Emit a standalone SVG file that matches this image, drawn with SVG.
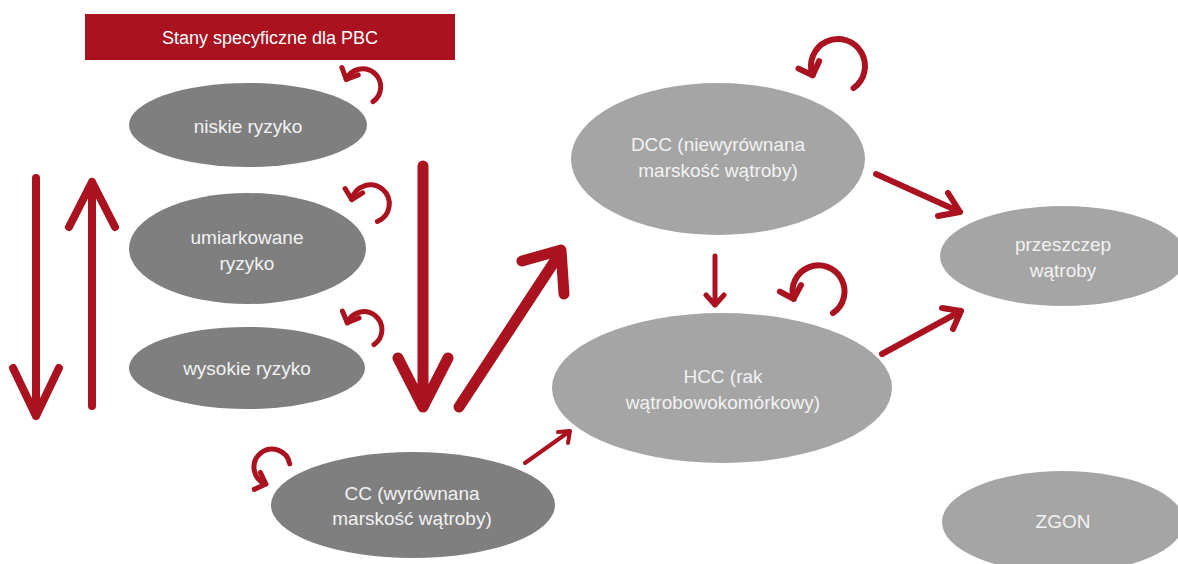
<svg xmlns="http://www.w3.org/2000/svg" width="1178" height="564" viewBox="0 0 1178 564">
<style>
.t{font-family:"Liberation Sans",Arial,sans-serif;font-size:19px;fill:#f2f2f2;text-anchor:middle}
.h{font-size:18px;fill:#ffffff}
.dark{fill:#7f7f7f}
.light{fill:#a5a5a5}
.c{fill:none;stroke:#ab1220;stroke-linecap:round;stroke-linejoin:round}
</style>
<defs>
<marker id="chev" markerUnits="userSpaceOnUse" markerWidth="30" markerHeight="30" refX="0" refY="0" viewBox="-15 -15 30 30" orient="auto" overflow="visible">
<path d="M-9 -9 L0 0 L-9 9" fill="none" stroke="#ab1220" stroke-width="5" stroke-linecap="round" stroke-linejoin="round"/>
</marker>
<marker id="chevL" markerUnits="userSpaceOnUse" markerWidth="40" markerHeight="40" refX="0" refY="0" viewBox="-20 -20 40 40" orient="auto" overflow="visible">
<path d="M-11 -11 L0 0 L-11 11" fill="none" stroke="#ab1220" stroke-width="6" stroke-linecap="round" stroke-linejoin="round"/>
</marker>
</defs>
<rect x="0" y="0" width="1178" height="564" fill="#ffffff"/>

<g id="header">
<rect x="85" y="14" width="370" height="46" fill="#ab1220"/>
<text class="t h" x="270" y="44">Stany specyficzne dla PBC</text>
</g>

<g id="niskie">
<ellipse class="dark" cx="248" cy="125" rx="119" ry="42"/>
<text class="t" x="248" y="133">niskie ryzyko</text>
</g>
<g id="umiarkowane">
<ellipse class="dark" cx="247.5" cy="248.5" rx="118.5" ry="55.5"/>
<text class="t" x="247" y="244">umiarkowane</text>
<text class="t" x="247" y="270">ryzyko</text>
</g>
<g id="wysokie">
<ellipse class="dark" cx="247" cy="368" rx="118" ry="41"/>
<text class="t" x="247" y="375">wysokie ryzyko</text>
</g>
<g id="cc">
<ellipse class="dark" cx="413" cy="505" rx="142" ry="53"/>
<text class="t" x="412" y="500">CC (wyrównana</text>
<text class="t" x="412" y="525">marskość wątroby)</text>
</g>
<g id="dcc">
<ellipse class="light" cx="718" cy="159" rx="147" ry="76"/>
<text class="t" x="718" y="151">DCC (niewyrównana</text>
<text class="t" x="718" y="177">marskość wątroby)</text>
</g>
<g id="hcc">
<ellipse class="light" cx="722" cy="388" rx="170" ry="75"/>
<text class="t" x="723" y="383">HCC (rak</text>
<text class="t" x="723" y="409">wątrobowokomórkowy)</text>
</g>
<g id="przeszczep">
<ellipse class="light" cx="1063" cy="256" rx="123" ry="50"/>
<text class="t" x="1063" y="251">przeszczep</text>
<text class="t" x="1063" y="277">wątroby</text>
</g>
<g id="zgon">
<ellipse class="light" cx="1063" cy="522" rx="121" ry="51"/>
<text class="t" x="1063" y="528">ZGON</text>
</g>

<g id="connectors">
<path class="c" stroke-width="8" d="M36 178 L36 416 M13 368 L36 416 L59 368"/>
<path class="c" stroke-width="8" d="M92 406 L92 182 M69 227 L92 182 L115 227"/>
<path class="c" stroke-width="11" d="M423 166 L423 407 M398 358 L423 407 L448 358"/>
<path class="c" stroke-width="11" d="M459 407 L560 253 M522 261 L561 250 L564 294"/>
<path class="c" stroke-width="4" d="M525 463 L570 431 M558 432 L570 431 L568 443"/>
<path class="c" stroke-width="5" d="M715 256 L715 305 M706 295 L715 305 L724 295"/>
<path class="c" stroke-width="6" d="M876 174 L960 212 M948 193 L960 212 L938 216"/>
<path class="c" stroke-width="6" d="M882 354 L961 311 M942 308 L961 311 L953 329"/>
<path class="c" stroke-width="5" marker-end="url(#chev)" d="M373 101.6 A18 18 0 1 0 346.3 79.4"/>
<path class="c" stroke-width="5" marker-end="url(#chev)" d="M377.4 221.5 A19 19 0 1 0 351.8 199.5"/>
<path class="c" stroke-width="5" marker-end="url(#chev)" d="M374 344.6 A18 18 0 1 0 347.3 322.8"/>
<path class="c" stroke-width="5" marker-end="url(#chev)" d="M289.7 463.9 A18 18 0 1 0 265.8 484"/>
<path class="c" stroke-width="6" marker-end="url(#chevL)" d="M853.5 88.1 A27 27 0 1 0 812.6 75.2"/>
<path class="c" stroke-width="6" marker-end="url(#chevL)" d="M833 313 A26 26 0 1 0 793.6 298.9"/>
</g>
</svg>
